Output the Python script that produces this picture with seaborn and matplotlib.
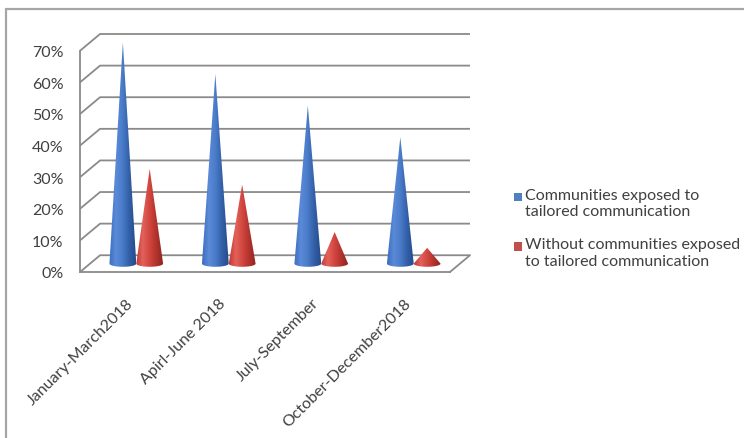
import numpy as np
import pandas as pd
import matplotlib
matplotlib.use("Agg")
import matplotlib.pyplot as plt
from matplotlib.colors import LinearSegmentedColormap
from matplotlib.patches import PathPatch, Patch, Rectangle
from matplotlib.path import Path
from matplotlib.lines import Line2D
from matplotlib.legend_handler import HandlerPatch
import seaborn as sns

# ---- data ----
periods = ["January-March2018", "Apirl-June 2018", "July-September", "October-December2018"]
series = ["Communities exposed to\ntailored communication",
          "Without communities exposed\nto tailored communication"]
exposed = [70, 60, 50, 40]
not_exposed = [30, 25, 10, 5]
y_ticks = [0, 10, 20, 30, 40, 50, 60, 70]
series_colors = ["#4f81bd", "#c0504d"]

# shading across each cone: left edge -> highlight -> shadowed right edge
cone_shades = [
    ["#3b6cbf", "#5a8ad8", "#4a7cc9", "#335fa8", "#244b8c"],
    ["#c23a33", "#e3625c", "#d2463f", "#b2332d", "#8f2520"],
]

df = pd.DataFrame({
    "period": periods * 2,
    "share": exposed + not_exposed,
    "group": [series[0]] * len(periods) + [series[1]] * len(periods),
})

sns.set_style("white")
plt.rcParams["font.family"] = ["Lato", "DejaVu Sans"]

W, H = 744, 439
fig = plt.figure(figsize=(W / 100, H / 100), dpi=100)
ax = fig.add_axes([80 / W, (H - 273) / H, 390 / W, 238 / H])

sns.barplot(data=df, x="period", y="share", hue="group", palette=series_colors,
            width=0.58, errorbar=None, legend=False, ax=ax)

# depth of the pseudo-3D box, in data units
depth_x = 0.217
depth_y = 5.3
n = len(periods)
x_left, x_right = -0.5, n - 0.5

grid_col = "#8a8a8a"
text_col = "#404040"
fsize = 11.5

# back wall gridlines and left-wall diagonals
for v in y_ticks:
    ax.plot([x_left, x_left + depth_x, x_right + depth_x], [v, v + depth_y, v + depth_y],
            color=grid_col, lw=1.3, clip_on=False, zorder=1, solid_capstyle="butt")
# right edge of the floor
ax.plot([x_right, x_right + depth_x], [0, depth_y], color=grid_col, lw=1.3,
        clip_on=False, zorder=1)


def draw_cone(cx, w, h, shades):
    base = depth_y / 2
    ry = 1.0
    t = np.linspace(np.pi, 2 * np.pi, 60)
    arc = list(zip(cx + (w / 2) * np.cos(t), base + ry * np.sin(t)))
    verts = [(cx, base + h)] + arc + [(cx, base + h)]
    codes = [Path.MOVETO] + [Path.LINETO] * (len(verts) - 2) + [Path.CLOSEPOLY]
    clip = PathPatch(Path(verts, codes), transform=ax.transData, facecolor="none",
                     edgecolor="none")
    cmap = LinearSegmentedColormap.from_list("cone", shades)
    im = ax.imshow(np.linspace(0, 1, 128)[None, :], cmap=cmap, aspect="auto",
                   interpolation="bilinear",
                   extent=(cx - w / 2, cx + w / 2, base - ry, base + h), zorder=3)
    im.set_clip_path(clip)


# replace each bar by a cone sized from the same bar
for k, cont in enumerate(ax.containers):
    for bar in cont:
        w = bar.get_width()
        cx = bar.get_x() + w / 2 + depth_x / 2
        h = bar.get_height()
        bar.set_visible(False)
        draw_cone(cx, w, h, cone_shades[k])

ax.set_xlim(x_left, x_right + depth_x)
ax.set_ylim(0, y_ticks[-1] + depth_y)

# axes
for s in ["top", "right"]:
    ax.spines[s].set_visible(False)
for s in ["left", "bottom"]:
    ax.spines[s].set_color(grid_col)
    ax.spines[s].set_linewidth(1.3)
ax.spines["left"].set_bounds(0, y_ticks[-1])
ax.spines["bottom"].set_bounds(x_left, x_right)

ax.set_yticks(y_ticks)
ax.set_yticklabels([f"{v}%" for v in y_ticks])
ax.tick_params(axis="y", direction="out", length=5, width=1.2, color=grid_col,
               labelsize=fsize, labelcolor=text_col, pad=7)

ax.set_xticks(range(n))
ax.set_xticks(np.arange(x_left, x_right + 0.01, 1.0), minor=True)
ax.set_xticklabels(periods, rotation=45, ha="right", rotation_mode="anchor")
ax.tick_params(axis="x", which="major", length=0, labelsize=fsize, labelcolor=text_col, pad=17)
ax.tick_params(axis="x", which="minor", direction="out", length=5, width=1.2, color=grid_col)
ax.set_xlabel("")
ax.set_ylabel("")


class TopSquare(HandlerPatch):
    """Legend key drawn as a small square level with the first label line."""

    def create_artists(self, legend, orig_handle, xdescent, ydescent, width, height,
                       fontsize, trans):
        s = 0.52 * fontsize
        y = -ydescent + height - s - 0.2 * fontsize
        p = Rectangle((-xdescent, y), s, s, facecolor=orig_handle.get_facecolor(),
                      edgecolor="none", transform=trans)
        return [p]


# legend
handles = [Patch(facecolor=c, edgecolor="none", label=s) for c, s in zip(series_colors, series)]
fig.legend(handles=handles, loc="upper left", bbox_to_anchor=(514 / W, 1 - 189 / H),
           frameon=False, fontsize=fsize, handlelength=0.55, handleheight=2.3,
           handletextpad=0.15, labelspacing=1.2, borderpad=0, borderaxespad=0,
           labelcolor=text_col, handler_map={Patch: TopSquare()})

# outer chart-area frame
frame_col = "#a6a6a6"
fig.add_artist(Line2D([6 / W, 6 / W], [0, 1 - 10 / H], color=frame_col, lw=1.6,
                      transform=fig.transFigure))
fig.add_artist(Line2D([6 / W, 1], [1 - 10 / H, 1 - 10 / H], color=frame_col, lw=1.6,
                      transform=fig.transFigure))

fig.savefig("out.png", dpi=100)
